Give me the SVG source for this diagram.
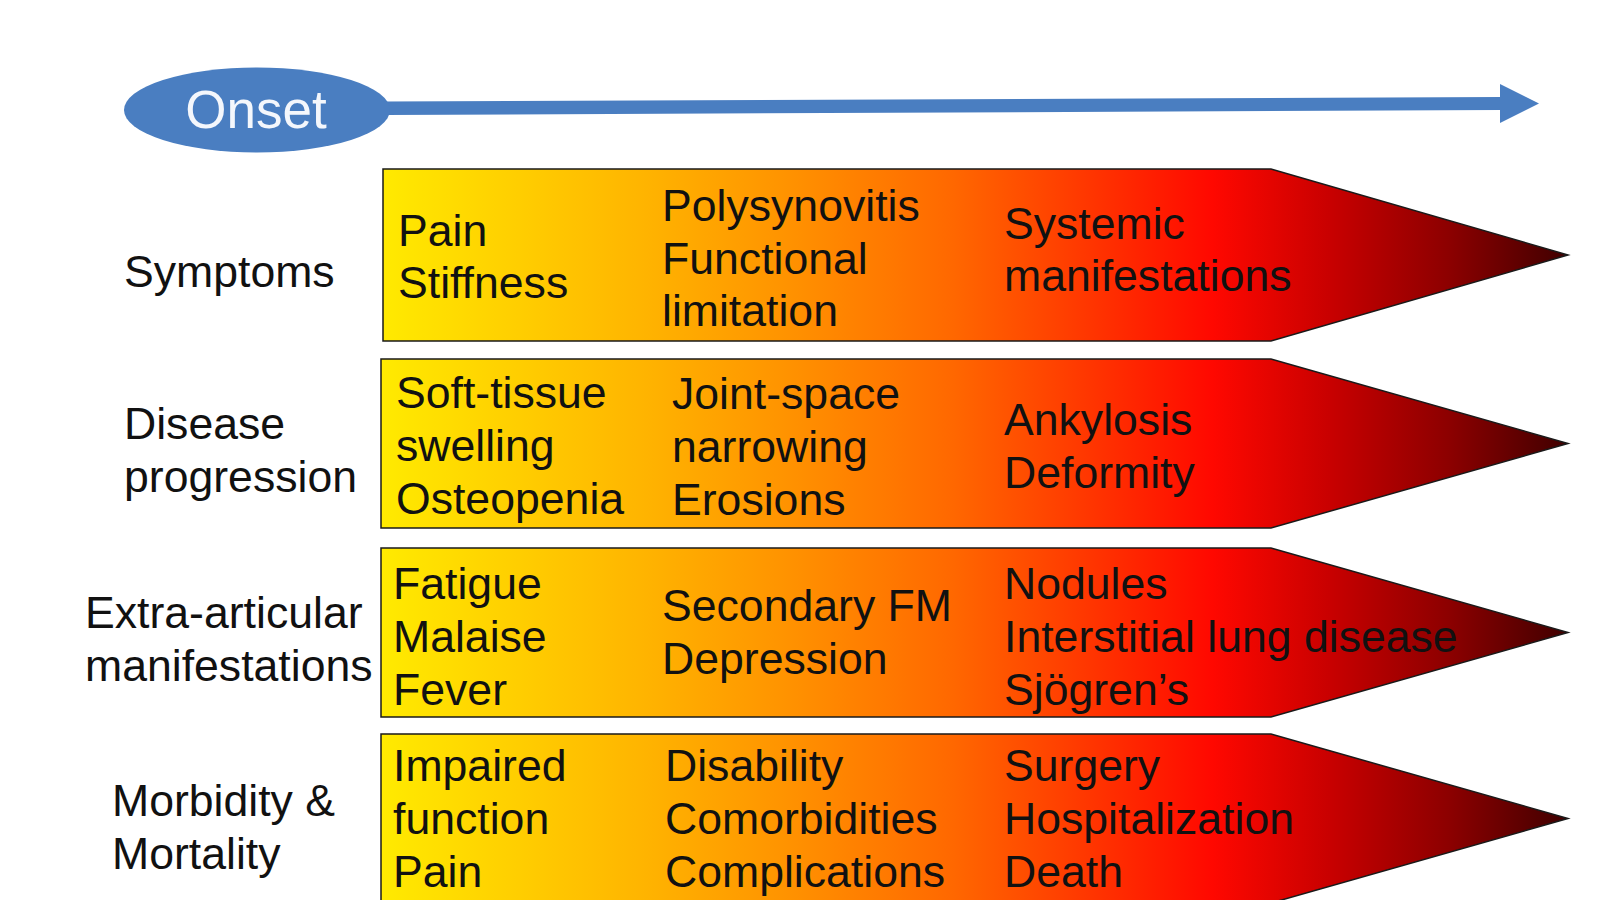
<svg xmlns="http://www.w3.org/2000/svg" width="1600" height="900" viewBox="0 0 1600 900">
<defs>
<linearGradient id="heat" gradientUnits="userSpaceOnUse" x1="383" y1="0" x2="1568" y2="0">
<stop offset="0" stop-color="#FFEA00"/>
<stop offset="0.22" stop-color="#FFB400"/>
<stop offset="0.35" stop-color="#FF9000"/>
<stop offset="0.48" stop-color="#FF6800"/>
<stop offset="0.6" stop-color="#FF3400"/>
<stop offset="0.7" stop-color="#FF0800"/>
<stop offset="0.8" stop-color="#C80000"/>
<stop offset="0.9" stop-color="#8C0000"/>
<stop offset="1" stop-color="#400000"/>
</linearGradient>
<style>
.band{fill:url(#heat);stroke:#1a1a1a;stroke-width:1.5;stroke-linejoin:miter}
.t{font-family:"Liberation Sans",Arial,sans-serif;font-size:44.6px;fill:#111}
.lbl{font-family:"Liberation Sans",Arial,sans-serif;font-size:44.6px;fill:#111}
.onset{font-family:"Liberation Sans",Arial,sans-serif;font-size:53px;fill:#F4F7FC;text-anchor:middle}
</style>
</defs>
<rect width="1600" height="900" fill="#ffffff"/>

<g id="connectors">
<polygon points="385,101.5 1500,97 1500,110 385,115" fill="#4A7EC1"/>
<polygon points="1500,84 1539,103.5 1500,123" fill="#4A7EC1"/>
</g>

<g id="onset">
<ellipse cx="257" cy="110" rx="133" ry="42.5" fill="#4A7EC1"/>
<text class="onset" x="256" y="128">Onset</text>
</g>

<g id="label-symptoms"><text class="lbl" x="124" y="287">Symptoms</text></g>
<g id="label-disease"><text class="lbl" x="124" y="439">Disease</text><text class="lbl" x="124" y="492">progression</text></g>
<g id="label-extra"><text class="lbl" x="85" y="628">Extra-articular</text><text class="lbl" x="85" y="681">manifestations</text></g>
<g id="label-morbidity"><text class="lbl" x="112" y="816">Morbidity &amp;</text><text class="lbl" x="112" y="869">Mortality</text></g>

<g id="row-symptoms">
<polygon class="band" points="383,169 1271,169 1568,255 1271,341 383,341"/>
<text class="t" x="398" y="246">Pain</text>
<text class="t" x="398" y="298">Stiffness</text>
<text class="t" x="662" y="221">Polysynovitis</text>
<text class="t" x="662" y="274">Functional</text>
<text class="t" x="662" y="326">limitation</text>
<text class="t" x="1004" y="239">Systemic</text>
<text class="t" x="1004" y="291">manifestations</text>
</g>

<g id="row-disease">
<polygon class="band" points="381,359 1271,359 1568,443.5 1271,528 381,528"/>
<text class="t" x="396" y="408">Soft-tissue</text>
<text class="t" x="396" y="461">swelling</text>
<text class="t" x="396" y="514">Osteopenia</text>
<text class="t" x="672" y="409">Joint-space</text>
<text class="t" x="672" y="462">narrowing</text>
<text class="t" x="672" y="515">Erosions</text>
<text class="t" x="1004" y="435">Ankylosis</text>
<text class="t" x="1004" y="488">Deformity</text>
</g>

<g id="row-extra">
<polygon class="band" points="381,548 1271,548 1568,632.5 1271,717 381,717"/>
<text class="t" x="393" y="599">Fatigue</text>
<text class="t" x="393" y="652">Malaise</text>
<text class="t" x="393" y="705">Fever</text>
<text class="t" x="662" y="621">Secondary FM</text>
<text class="t" x="662" y="674">Depression</text>
<text class="t" x="1004" y="599">Nodules</text>
<text class="t" x="1004" y="652">Interstitial lung disease</text>
<text class="t" x="1004" y="705">Sjögren’s</text>
</g>

<g id="row-morbidity">
<polygon class="band" points="381,734 1271,734 1568,818.5 1271,903 381,903"/>
<text class="t" x="393" y="781">Impaired</text>
<text class="t" x="393" y="834">function</text>
<text class="t" x="393" y="887">Pain</text>
<text class="t" x="665" y="781">Disability</text>
<text class="t" x="665" y="834">Comorbidities</text>
<text class="t" x="665" y="887">Complications</text>
<text class="t" x="1004" y="781">Surgery</text>
<text class="t" x="1004" y="834">Hospitalization</text>
<text class="t" x="1004" y="887">Death</text>
</g>
</svg>
